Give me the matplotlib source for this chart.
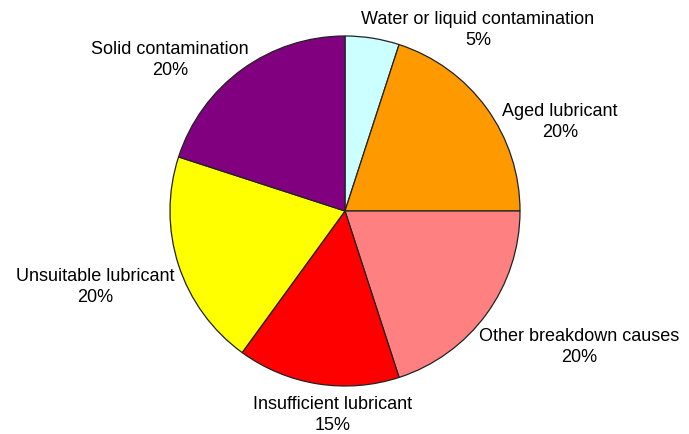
import matplotlib.pyplot as plt

plt.rcParams['font.family'] = ['Liberation Sans', 'DejaVu Sans']

# slices, clockwise from 12 o'clock
labels = ["Water or liquid contamination", "Aged lubricant", "Other breakdown causes",
          "Insufficient lubricant", "Unsuitable lubricant", "Solid contamination"]
shares = [5, 20, 20, 15, 20, 20]
colors = ["#ccffff", "#ff9900", "#ff8080", "#ff0000", "#ffff00", "#800080"]

# where each label goes (pixels from top-left, text centre)
label_pos = [(478, 30), (560, 122), (579, 347), (333, 415), (95, 287), (170, 60)]

W, H = 689, 435
fig = plt.figure(figsize=(W / 100, H / 100), dpi=100)
ax = fig.add_axes([0, 0, 1, 1])
ax.pie(shares, colors=colors, startangle=90, counterclock=False,
       center=(345, H - 212), radius=175,
       wedgeprops=dict(edgecolor="#222222", linewidth=0.9))
ax.set_xlim(0, W)
ax.set_ylim(0, H)
ax.set_aspect("equal")
ax.axis("off")

for name, val, (x, y) in zip(labels, shares, label_pos):
    ax.text(x, H - y, f"{name}\n{val}%", ha="center", va="center", fontsize=13,
            linespacing=1.25)

fig.savefig("out.png", dpi=100)
